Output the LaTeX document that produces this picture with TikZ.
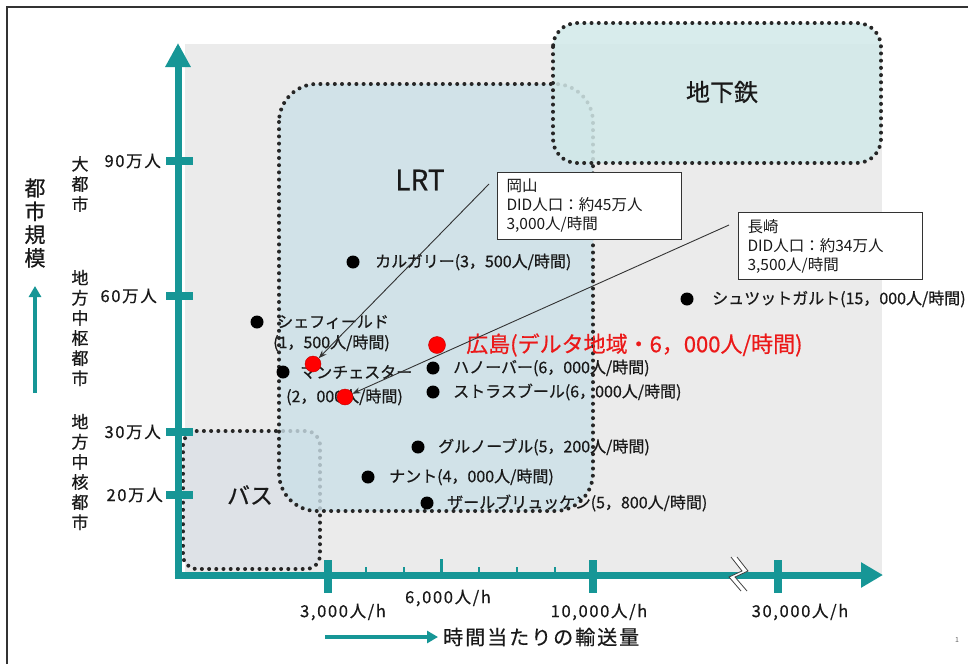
\documentclass[tikz,border=0pt]{standalone}
\usepackage{fontspec}
\setmainfont{Noto Sans CJK JP}
\newfontfamily\jpaxfont{Noto Sans CJK JP}[LetterSpace=10,FakeBold=0.5]
\newfontfamily\jplbfont{Noto Sans CJK JP}[FakeBold=0.6]
\usetikzlibrary{arrows.meta}
\definecolor{axc}{RGB}{22,150,150}
\definecolor{bgc}{RGB}{235,235,235}
\definecolor{lrtc}{RGB}{203,224,232}
\definecolor{subc}{RGB}{210,233,233}
\definecolor{busc}{RGB}{222,226,231}
\definecolor{hred}{RGB}{235,25,25}
\definecolor{txt}{RGB}{25,25,25}
\tikzset{
  dotline/.style={line width=4pt, dash pattern=on 0pt off 7.2pt, line cap=round, draw=black!85},
  bdot/.style={circle, fill=black, minimum size=13pt, inner sep=0pt},
  rdot/.style={circle, fill=red, draw=red!75!black, line width=0.4pt, minimum size=16pt, inner sep=0pt},
  dlbl/.style={anchor=west, inner sep=0pt, font=\jplbfont\fontsize{16}{18}\selectfont, text=txt},
  axlbl/.style={inner sep=0pt, font=\jpaxfont\fontsize{16.5}{18}\selectfont, text=txt},
  vlbl/.style={align=center, inner sep=0pt, font=\jplbfont\fontsize{17}{20.1}\selectfont, text=txt},
  callout/.style={draw=black!80, line width=1pt, fill=white, align=left, text width=166pt,
     inner xsep=9pt, minimum height=67pt, font=\fontsize{15.5}{19}\selectfont, text=txt, anchor=north west},
  axisline/.style={axc, line width=7pt},
  tickbig/.style={axc, line width=8pt},
  ticksm/.style={axc, line width=2.5pt},
  leader/.style={black!80, line width=0.9pt, -{Stealth[length=8pt,width=6pt]}}
}
\begin{document}
\begin{tikzpicture}[x=1pt,y=-1pt]
\useasboundingbox (0,0) rectangle (968,664);
\fill[white] (0,0) rectangle (968,664);
% frame
\draw[line width=2pt, black!80] (7,664) -- (7,7) -- (968,7);
% background
\fill[bgc] (185,44) rectangle (882,575);
% bus region
\fill[busc, rounded corners=14] (183,431) rectangle (320,569);
\draw[dotline, rounded corners=14] (183,431) rectangle (320,569);
% LRT region
\fill[lrtc, fill opacity=0.8, rounded corners=38] (279,84) rectangle (593,511);
\draw[dotline, rounded corners=38] (279,84) rectangle (593,511);
% subway region
\fill[subc, fill opacity=0.85, rounded corners=24] (553,23) rectangle (881,163);
\draw[dotline, rounded corners=24] (553,23) rectangle (881,163);
% region titles
\node[inner sep=0pt, font=\jplbfont\fontsize{28}{30}\selectfont, text=txt] (lrt) at (420,180) {LRT};
\node[inner sep=0pt, font=\jplbfont\fontsize{24}{26}\selectfont, text=txt] (sub) at (722,92) {地下鉄};
\node[inner sep=0pt, font=\jplbfont\fontsize{23}{25}\selectfont, text=txt] (bus) at (250,495) {バス};
% axes
\draw[axisline, -{Triangle[width=24pt,length=24pt]}] (178,579) -- (178,43);
\draw[axisline, -{Triangle[width=24pt,length=22pt]}] (174.5,575) -- (883,575);
% y ticks
\foreach \yy in {161,296,432,495} \draw[tickbig] (166,\yy) -- (193,\yy);
% x ticks
\foreach \xx in {328,593,778} \draw[tickbig] (\xx,560) -- (\xx,593);
\foreach \xx in {366,404,479,517,555} \draw[ticksm] (\xx,567) -- (\xx,575);
\draw[axc, line width=3pt] (441,559) -- (441,575);
% axis break
\fill[white] (731,557) -- (742,571) -- (729,577) -- (741,591) -- (747,591) -- (735,577) -- (748,571) -- (737,557) -- cycle;
\draw[black!75, line width=0.8pt] (731,557) -- (742,571) -- (729,577) -- (741,591);
\draw[black!75, line width=0.8pt] (737,557) -- (748,571) -- (735,577) -- (747,591);
% y labels
\node[axlbl, anchor=east] (y90) at (161,161) {90万人};
\node[axlbl, anchor=east] (y60) at (157,296) {60万人};
\node[axlbl, anchor=east] (y30) at (161,432) {30万人};
\node[axlbl, anchor=east] (y20) at (163,495) {20万人};
\node[vlbl] (c1) at (80,184) {大\\都\\市};
\node[vlbl] (c2) at (80,328) {地\\方\\中\\枢\\都\\市};
\node[vlbl] (c3) at (80,472) {地\\方\\中\\核\\都\\市};
\node[align=center, inner sep=0pt, font=\jplbfont\fontsize{21}{23.3}\selectfont, text=txt] (ytitle) at (35,223) {都\\市\\規\\模};
\coordinate (ya0) at (35,393);
\coordinate (ya1) at (35,286);
\draw[axc, line width=3.5pt, -{Triangle[width=12pt,length=11pt]}] (ya0) -- (ya1);
% x labels
\node[axlbl] (x3) at (343,612) {3,000人/h};
\node[axlbl] (x6) at (448,598) {6,000人/h};
\node[axlbl] (x10) at (599,612) {10,000人/h};
\node[axlbl] (x30) at (800,612) {30,000人/h};
\coordinate (xa0) at (325,637);
\coordinate (xa1) at (438,637);
\draw[axc, line width=3.5pt, -{Triangle[width=12pt,length=11pt]}] (xa0) -- (xa1);
\node[inner sep=0pt, anchor=west, font=\jpaxfont\fontsize{20}{22}\selectfont, text=txt] (xtitle) at (443,637) {時間当たりの輸送量};
% data points
\node[bdot] (calg) at (353,262) {};
\node[dlbl] (calgT) at (375,262) {カルガリー(3，500人/時間)};
\node[bdot] (shef) at (257,322) {};
\node[dlbl] (shefT) at (277,322) {シェフィールド};
\node[dlbl] (shefT2) at (273,343) {(1，500人/時間)};
\node[bdot] (manc) at (283,372) {};
\node[dlbl] (mancT) at (300,372) {マンチェスター};
\node[dlbl] (mancT2) at (286,397) {(2，000人/時間)};
\node[bdot] (hann) at (433,368) {};
\node[dlbl] (hannT) at (453,368) {ハノーバー(6，000人/時間)};
\node[bdot] (stra) at (433,392) {};
\node[dlbl] (straT) at (453,392) {ストラスブール(6，000人/時間)};
\node[bdot] (gren) at (418,447) {};
\node[dlbl] (grenT) at (438,447) {グルノーブル(5，200人/時間)};
\node[bdot] (nant) at (368,477) {};
\node[dlbl] (nantT) at (389,477) {ナント(4，000人/時間)};
\node[bdot] (saar) at (427,503) {};
\node[dlbl] (saarT) at (447,503) {ザールブリュッケン(5，800人/時間)};
\node[bdot] (stut) at (687,299) {};
\node[dlbl] (stutT) at (712,299) {シュツットガルト(15，000人/時間)};
% red points
\node[rdot] (okdot) at (313,364) {};
\node[rdot] (ngdot) at (345,397) {};
\node[rdot, minimum size=17pt] (hiro) at (437,345) {};
\node[anchor=west, inner sep=0pt, font=\jplbfont\fontsize{22}{24}\selectfont, text=hred] (hiroT) at (466,345) {広島(デルタ地域・6，000人/時間)};
% callouts
\node[callout] (okabox) at (497,172) {岡山\\DID人口：約45万人\\3,000人/時間};
\node[callout] (ngbox) at (738,212) {長崎\\DID人口：約34万人\\3,500人/時間};
\coordinate (okS) at (489,184);
\coordinate (ngS) at (729,225);
\draw[leader] (okS) -- (okdot);
\draw[leader] (ngS) -- (ngdot);
% page number
\node[inner sep=0pt, font=\fontsize{7}{8}\selectfont, text=black!60] (pg) at (957,640) {1};
\end{tikzpicture}
\end{document}
